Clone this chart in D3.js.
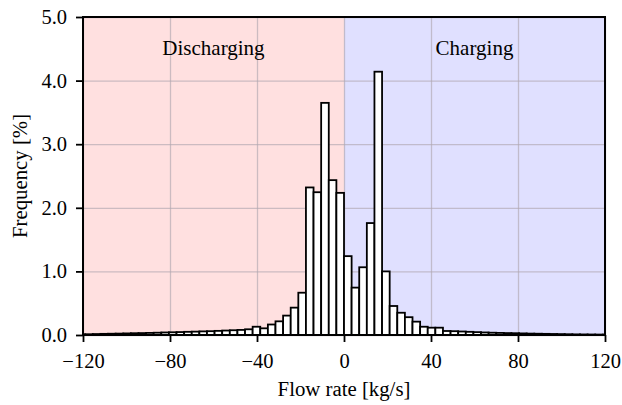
<!DOCTYPE html>
<html>
<head>
<meta charset="utf-8">
<script src="https://cdn.jsdelivr.net/npm/d3@7"></script>
<style>
  body { margin: 0; background: #fff; }
  text { font-family: "Liberation Serif", "Times New Roman", serif; fill: #000; }
  .axisLabel { font-size: 20.8px; }
  .regionLabel { font-size: 21px; }
</style>
</head>
<body>
<div class="chart_container"></div>
<script>
var width = 622
var height = 405
var margin = {top: 17, right: 17, bottom: 70, left: 83}

// histogram, bins of 3.5 kg/s starting at -122.5
var binWidth = 3.5
var firstEdge = -122.5
var freqs = [
  0.010, 0.012, 0.015, 0.018, 0.020, 0.022, 0.025, 0.028, 0.030, 0.033,
  0.036, 0.040, 0.043, 0.046, 0.050, 0.053, 0.057, 0.060, 0.065, 0.070,
  0.075, 0.080, 0.090, 0.130, 0.105, 0.165, 0.215, 0.305, 0.430, 0.665,
  2.320, 2.245, 3.650, 2.435, 2.235,
  1.240, 0.745, 1.065, 1.760, 4.140, 1.000, 0.456, 0.350, 0.280, 0.210,
  0.130, 0.115, 0.115, 0.063, 0.060, 0.055, 0.050, 0.045, 0.040, 0.036,
  0.033, 0.030, 0.028, 0.025, 0.022, 0.020, 0.018, 0.016, 0.014, 0.012,
  0.010, 0.009, 0.008, 0.007, 0.006
]
var xTicks = [-120, -80, -40, 0, 40, 80, 120]
var yTicks = [0, 1, 2, 3, 4, 5]
var regions = [
  {name: "Discharging", from: -120, to: 0, color: "#ffe0e0"},
  {name: "Charging", from: 0, to: 120, color: "#e0e0ff"}
]

var bins = freqs.map(function (f, i) {
  return {x0: firstEdge + i * binWidth, x1: firstEdge + (i + 1) * binWidth, freq: f}
})

var plotW = width - margin.left - margin.right
var plotH = height - margin.top - margin.bottom

var svg = d3.select(".chart_container").append("svg")
  .attr("width", width)
  .attr("height", height)

var g = svg.append("g")
  .attr("transform", "translate(" + margin.left + "," + margin.top + ")")

var scaleX = d3.scaleLinear().domain([-120, 120]).range([0, plotW])
var scaleY = d3.scaleLinear().domain([0, 5]).range([plotH, 0])

svg.append("clipPath").attr("id", "plotClip")
  .append("rect").attr("width", plotW).attr("height", plotH)

// shaded regions
g.selectAll(".region")
  .data(regions)
  .enter().append("rect")
  .attr("x", function (d) { return scaleX(d.from) })
  .attr("width", function (d) { return scaleX(d.to) - scaleX(d.from) })
  .attr("y", 0)
  .attr("height", plotH)
  .style("fill", function (d) { return d.color })

// grid
g.append("g")
  .call(d3.axisBottom(scaleX).tickValues(xTicks).tickSize(plotH).tickFormat(""))
  .call(function (s) { s.select(".domain").remove() })
  .selectAll("line").style("stroke", "#b0a8b0").style("stroke-opacity", 0.65).style("stroke-width", 1.3)

g.append("g")
  .call(d3.axisLeft(scaleY).tickValues(yTicks).tickSize(-plotW).tickFormat(""))
  .call(function (s) { s.select(".domain").remove() })
  .selectAll("line").style("stroke", "#b0a8b0").style("stroke-opacity", 0.65).style("stroke-width", 1.3)

// bars
g.append("g")
  .attr("clip-path", "url(#plotClip)")
  .selectAll("rect")
  .data(bins)
  .enter().append("rect")
  .attr("x", function (d) { return scaleX(d.x0) })
  .attr("width", function (d) { return scaleX(d.x1) - scaleX(d.x0) })
  .attr("y", function (d) { return scaleY(d.freq) })
  .attr("height", function (d) { return scaleY(0) - scaleY(d.freq) })
  .style("fill", "#fff")
  .style("stroke", "#000")
  .style("stroke-width", 1.8)

// axes
var axisBottom = d3.axisBottom(scaleX)
  .tickValues(xTicks)
  .tickSize(7)
  .tickPadding(11)
  .tickFormat(function (d) { return d < 0 ? "\u2212" + Math.abs(d) : d })

var axisLeft = d3.axisLeft(scaleY)
  .tickValues(yTicks)
  .tickSize(7)
  .tickPadding(9)
  .tickFormat(d3.format(".1f"))

var xa = g.append("g")
  .attr("transform", "translate(0," + plotH + ")")
  .call(axisBottom)
var ya = g.append("g").call(axisLeft)

;[xa, ya].forEach(function (a) {
  a.selectAll("line").style("stroke", "#000").style("stroke-width", 1.8)
  a.select(".domain").remove()
  a.selectAll("text").style("font-family", "Liberation Serif, serif").style("font-size", "20.5px")
})

// frame
g.append("rect")
  .attr("width", plotW)
  .attr("height", plotH)
  .style("fill", "none")
  .style("stroke", "#000")
  .style("stroke-width", 2)

// labels
g.selectAll(".regionLabel")
  .data(regions)
  .enter().append("text")
  .attr("class", "regionLabel")
  .attr("x", function (d) { return (scaleX(d.from) + scaleX(d.to)) / 2 })
  .attr("y", 38)
  .style("text-anchor", "middle")
  .text(function (d) { return d.name })

svg.append("text")
  .attr("class", "axisLabel")
  .attr("x", margin.left + plotW / 2)
  .attr("y", 396)
  .style("text-anchor", "middle")
  .text("Flow rate [kg/s]")

svg.append("text")
  .attr("class", "axisLabel")
  .attr("transform", "translate(27," + (margin.top + plotH / 2) + ") rotate(-90)")
  .style("text-anchor", "middle")
  .text("Frequency [%]")
</script>
</body>
</html>
